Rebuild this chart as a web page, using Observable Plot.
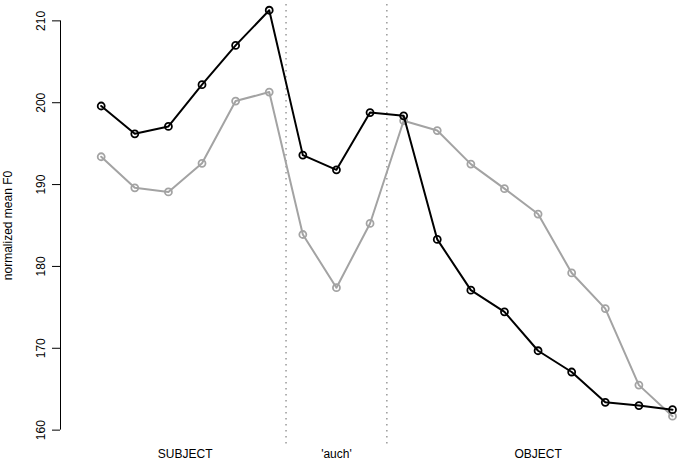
<!DOCTYPE html>
<html><head><meta charset="utf-8">
<script src="https://cdn.jsdelivr.net/npm/d3@7"></script>
<script src="https://cdn.jsdelivr.net/npm/@observablehq/plot@0.6"></script>
<style>body{margin:0;background:#fff}</style>
</head><body><div id="chart"></div>
<script>
const positions = d3.range(1, 19);
const blackSeries = [199.6, 196.2, 197.1, 202.2, 207.0, 211.3, 193.6, 191.8, 198.8, 198.4, 183.3, 177.1, 174.45, 169.7, 167.1, 163.4, 163.0, 162.5];
const graySeries = [193.4, 189.6, 189.1, 192.6, 200.2, 201.3, 183.9, 177.4, 185.25, 197.8, 196.6, 192.5, 189.5, 186.4, 179.2, 174.85, 165.5, 161.7];
const yTicks = [160, 170, 180, 190, 200, 210];
const segmentLabels = ["SUBJECT", "'auch'", "OBJECT"];
const segmentStarts = [1, 7, 10];
const segmentEnds = [6, 9, 18];

const xDomain = [-0.211, 18.238];
const blackData = positions.map((p, i) => ({x: p, y: blackSeries[i]}));
const grayData = positions.map((p, i) => ({x: p, y: graySeries[i]}));
const segData = segmentLabels.map((l, i) => ({label: l, x: (segmentStarts[i] + segmentEnds[i]) / 2}));
const boundaries = segmentEnds.slice(0, -1).map(e => e + 0.5);

const chart = Plot.plot({
  width: 680, height: 464,
  marginLeft: 60, marginRight: 0, marginTop: 4, marginBottom: 18,
  style: {fontFamily: "'Liberation Sans', Arial, Helvetica, sans-serif", fontSize: "12px", color: "black", background: "white"},
  x: {domain: xDomain, axis: null},
  y: {domain: [158, 212]},
  marks: [
    Plot.axisY(yTicks, {tickSize: 8, tickRotate: -90, tickPadding: 8, fontSize: 12, label: "normalized mean F0", labelAnchor: "center", labelArrow: "none", labelOffset: 57}),
    Plot.ruleX([xDomain[0]], {y1: yTicks[0], y2: yTicks[yTicks.length - 1], stroke: "black"}),
    Plot.ruleX(boundaries, {stroke: "#999", strokeWidth: 1.5, strokeDasharray: "1.5,4.5"}),
    Plot.line(grayData, {x: "x", y: "y", stroke: "#a3a3a3", strokeWidth: 2}),
    Plot.dot(grayData, {x: "x", y: "y", r: 3.5, stroke: "#a3a3a3", strokeWidth: 1.8, fill: "none"}),
    Plot.line(blackData, {x: "x", y: "y", stroke: "black", strokeWidth: 2}),
    Plot.dot(blackData, {x: "x", y: "y", r: 3.5, stroke: "black", strokeWidth: 1.8, fill: "none"}),
    Plot.text(segData, {x: "x", text: "label", frameAnchor: "bottom", dy: 8, lineAnchor: "middle", fontSize: 12, fill: "black"})
  ]
});
document.getElementById("chart").appendChild(chart);
</script>
</body></html>
